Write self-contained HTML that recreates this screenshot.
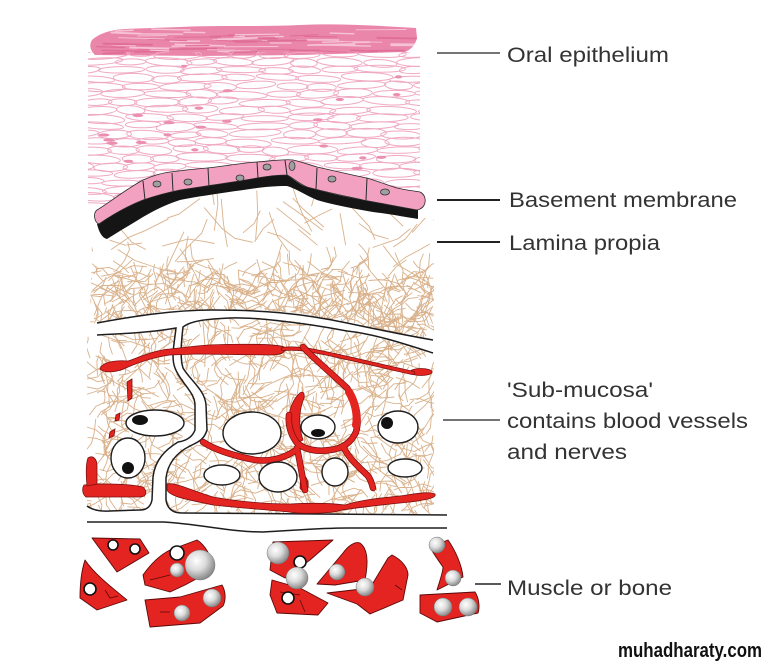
<!DOCTYPE html>
<html><head><meta charset="utf-8">
<style>
html,body{margin:0;padding:0;background:#fff;}
svg{display:block;}
</style></head>
<body>
<svg id="s" width="768" height="664" viewBox="0 0 768 664" xmlns="http://www.w3.org/2000/svg">
<defs>
<radialGradient id="gs" cx="0.38" cy="0.36" r="0.7">
<stop offset="0" stop-color="#ffffff"/>
<stop offset="0.45" stop-color="#dcdcdc"/>
<stop offset="1" stop-color="#7c7c7c"/>
</radialGradient>
<clipPath id="cEpi"><path d="M88,52 L420,52 L420,193 L397,188 L367,178 L317,167 L293,160 L257,162 L207,168 L170,172 L143,180 L97,210 L88,205 Z"/></clipPath>
<clipPath id="cKer"><path d="M92,40 C100,33 110,30 125,29 L180,27 C220,25 260,27 300,25 C340,23 380,26 416,28 L417,38 C415,46 410,50 405,52 L300,55 L200,56 L95,55 C90,50 89,45 92,40 Z"/></clipPath>
<clipPath id="cLam"><path d="M92,236 L107,238 L143,217 L180,200 L257,187 L290,183 L313,195 L367,210 L418,218 L434,218 L434,340 L410,336 L380,330 L347,323 L300,313 L260,310 L213,310 L170,310 L130,317 L97,323 L90,324 Z"/></clipPath>
<clipPath id="cSub">
<path d="M87,337 L97,335 L147,332 L176,328 L173,363 L185,383 L195,397 L195,430 L178,440 L158,457 L153,477 L152,500 Q150,510 140,510 L110,511 Q95,512 87,506 Z"/>
<path d="M183,327 L180,363 L195,380 L205,397 L207,430 L198,440 L175,452 L167,470 L165,497 L166,501 Q168,513 182,513 L434,514 L434,353 L400,343 L347,331 L300,322 L250,317 L230,318 L192,321 Z"/>
</clipPath>
</defs>

<!-- keratin band -->
<path d="M92,40 C100,33 110,30 125,29 L180,27 C220,25 260,27 300,25 C340,23 380,26 416,28 L417,38 C415,46 410,50 405,52 L300,55 L200,56 L95,55 C90,50 89,45 92,40 Z" fill="#ea86a9"/>
<g clip-path="url(#cKer)"><g id="kstreak" fill="none" stroke-linecap="round"></g></g>

<!-- epithelium cells -->
<g clip-path="url(#cEpi)"><g id="epi" fill="none" stroke="#f0a9c3" stroke-width="1"></g></g>

<!-- lamina propria fibers -->
<g clip-path="url(#cLam)"><g id="lam" fill="none" stroke="#d9b18b" stroke-width="0.9"></g></g>

<!-- submucosa fibers -->
<g clip-path="url(#cSub)"><g id="sub" fill="none" stroke="#d9b18b" stroke-width="0.9"></g></g>

<!-- band lines -->
<g fill="none" stroke="#1e1e1e" stroke-width="1.5">
<path d="M97,323 C130,317 170,310 213,310 C260,310 300,313 347,323 C380,330 410,336 433,340"/>
<path d="M97,335 C120,334 155,332 176,328 C174,345 171,358 175,368 C180,382 195,392 195,405 L195,430 C192,438 185,441 178,442 C165,450 155,460 153,477 L152,500 Q150,510 140,510 L110,511 Q95,512 87,506"/>
<path d="M433,353 C405,344 375,334 347,331 C300,322 250,317 230,318 C210,319 192,320 183,327 C181,345 180,358 183,368 C190,380 205,390 206,405 L207,430 C204,440 198,442 190,446 C178,452 168,462 166,478 L166,500 Q168,513 182,513 L447,515"/>
<path d="M87,522 L163,522 C200,524 230,532 263,532 C300,530 320,528 347,528 L447,528"/>
</g>

<!-- blood vessels -->
<g fill="#e42420" stroke="#7a1010" stroke-width="0.8">
<path d="M100,369 C102,362 115,360 128,361 C140,357 155,350 170,349 L197,346 C215,344 275,343 284,347 C287,352 282,355 270,355 L197,354 L170,355 C155,357 140,362 128,367 C118,372 105,374 100,369 Z"/>
<ellipse cx="421" cy="372" rx="11" ry="3.5"/>
<path d="M167,484 C175,482 190,490 213,497 C240,502 270,504 290,504 C310,503 330,503 345,505 C360,500 380,498 400,496 C415,494 428,491 435,494 C437,498 425,500 410,502 C390,504 370,506 342,510 C330,514 300,514 289,512 C270,510 240,508 213,505 C190,500 170,497 167,490 Z"/>
<path d="M84,485 C100,483 130,484 143,487 C148,492 146,497 140,497 L86,497 C82,494 82,488 84,485 Z"/>
<path d="M88,458 C92,455 97,458 97,466 L97,484 L87,486 C86,475 86,463 88,458 Z"/>
<path d="M127,382 L132,379 L132,398 L128,401 Z"/>
<path d="M116,415 L120,413 L119,420 L115,421 Z"/>
<path d="M110,432 L115,429 L114,436 L109,438 Z"/>
<path d="M298,395 C302,390 305,392 304,398 C299,410 298,425 303,440 L296,444 C290,432 288,420 290,410 C292,403 295,398 298,395 Z"/>
<path d="M301,475 C305,474 309,480 308,488 C306,492 302,492 300,488 Z"/>
</g>
<g fill="none" stroke-linecap="round" stroke-linejoin="round">
<g stroke="#7a1010" stroke-width="4.2">
<path d="M283,349 C300,347 320,352 347,358 C370,363 390,368 413,373"/>
</g>
<g stroke="#e42420" stroke-width="2.6">
<path d="M283,349 C300,347 320,352 347,358 C370,363 390,368 413,373"/>
</g>
<g stroke="#7a1010" stroke-width="6.5">
<path d="M303,347 C312,357 330,372 347,388 C356,400 360,418 356,432 C350,445 340,449 330,450 C318,452 305,450 297,443 C291,435 288,425 289,415"/>
<path d="M343,446 C348,458 360,468 368,476 C371,480 372,484 373,488"/>
<path d="M297,448 C300,462 302,475 305,490"/>
<path d="M296,450 C285,458 270,462 255,460 C240,457 218,452 203,442"/>
</g>
<g stroke="#e42420" stroke-width="5">
<path d="M303,347 C312,357 330,372 347,388 C356,400 360,418 356,432 C350,445 340,449 330,450 C318,452 305,450 297,443 C291,435 288,425 289,415"/>
<path d="M343,446 C348,458 360,468 368,476 C371,480 372,484 373,488"/>
<path d="M297,448 C300,462 302,475 305,490"/>
<path d="M296,450 C285,458 270,462 255,460 C240,457 218,452 203,442"/>
</g>
<g stroke="#e42420" stroke-width="8">
<path d="M349,392 C355,402 358,415 356,425"/>
</g>
</g>

<!-- ellipses -->
<g fill="#fff" stroke="#1e1e1e" stroke-width="1.4">
<ellipse cx="155" cy="423" rx="29" ry="13"/>
<ellipse cx="128" cy="458" rx="17" ry="20"/>
<ellipse cx="252" cy="433" rx="29" ry="21"/>
<ellipse cx="318" cy="427" rx="17" ry="12"/>
<ellipse cx="398" cy="427" rx="20" ry="16"/>
<ellipse cx="222" cy="475" rx="18" ry="10"/>
<ellipse cx="278" cy="477" rx="19" ry="15"/>
<ellipse cx="335" cy="472" rx="13" ry="14"/>
<ellipse cx="405" cy="468" rx="17" ry="9"/>
</g>
<g fill="#111">
<ellipse cx="140" cy="420" rx="8" ry="5"/>
<circle cx="128" cy="468" r="6"/>
<ellipse cx="318" cy="433" rx="7" ry="4"/>
<circle cx="387" cy="423" r="6"/>
</g>

<!-- basal layer -->
<path d="M97,224 C110,216 128,206 143,200 C160,194 170,192 180,190 C210,186 240,180 257,178 C270,176 280,174 287,175 C295,180 300,185 307,187 C325,192 345,197 363,200 C385,204 405,208 418,210 L418,219 C405,217 390,214 373,212 C350,208 330,204 317,200 C305,195 295,188 287,186 C275,186 265,187 257,188 C230,192 200,196 180,200 C165,205 155,210 143,217 C130,225 118,232 107,239 C102,238 99,232 97,224 Z" fill="#151515"/>
<path d="M97,210 C110,202 128,188 143,180 C152,176 162,173 170,172 C185,170 195,169 207,168 C225,166 242,163 257,162 C270,161 283,159 293,160 C302,162 310,165 317,167 C335,171 352,175 367,178 C380,182 390,186 397,188 C405,190 415,191 420,192 C427,195 427,206 420,209 L417,210 C400,207 380,203 363,200 C345,196 325,192 307,187 C298,183 292,177 287,175 C278,175 268,176 257,178 C235,182 205,186 180,190 C165,193 155,196 143,200 C128,206 112,215 99,224 C94,222 93,213 97,210 Z" fill="#f2a2c0" stroke="#2a2a2a" stroke-width="0.8"/>
<g stroke="#2a2a2a" stroke-width="1">
<line x1="143" y1="181" x2="145" y2="200"/>
<line x1="172" y1="173" x2="173" y2="191"/>
<line x1="208" y1="168" x2="209" y2="187"/>
<line x1="257" y1="162" x2="258" y2="178"/>
<line x1="285" y1="160" x2="287" y2="175"/>
<line x1="317" y1="168" x2="316" y2="189"/>
<line x1="367" y1="178" x2="366" y2="200"/>
</g>
<g fill="#a0a0a0" stroke="#333" stroke-width="0.8">
<ellipse cx="157" cy="184" rx="4" ry="3"/>
<ellipse cx="188" cy="182" rx="4" ry="3"/>
<ellipse cx="240" cy="178" rx="4" ry="3"/>
<ellipse cx="267" cy="167" rx="4" ry="3"/>
<ellipse cx="292" cy="166" rx="3" ry="4.5"/>
<ellipse cx="332" cy="179" rx="4" ry="3"/>
<ellipse cx="385" cy="192" rx="4.5" ry="3"/>
</g>

<!-- muscle / bone -->
<g fill="#e42420" stroke="#5a0a0a" stroke-width="0.9" stroke-linejoin="round">
<path d="M92,538 L140,539 L149,553 L117,572 L103,553 Z"/>
<path d="M85,560 C95,575 115,590 127,600 L97,610 L80,598 C80,585 81,572 85,560 Z"/>
<path d="M143,575 C150,565 158,556 170,550 L197,540 C205,545 212,556 213,570 L185,585 L170,592 L145,585 Z"/>
<path d="M145,600 L180,597 L222,585 C226,592 226,600 223,606 L200,623 L150,627 Z"/>
<path d="M273,542 L333,540 L310,560 L285,578 L270,570 Z"/>
<path d="M272,580 L300,588 L328,603 L318,615 L277,613 L270,595 Z"/>
<path d="M317,584 L343,553 C348,546 355,541 360,543 C367,548 369,560 365,580 L335,585 Z"/>
<path d="M327,593 L370,588 L388,558 L392,555 C402,560 408,568 408,575 L403,600 L370,614 L357,604 Z"/>
<path d="M430,547 L448,540 C455,550 462,565 463,577 L437,590 C440,580 443,572 443,567 C438,560 433,553 430,547 Z"/>
<path d="M420,595 L475,592 C479,598 480,607 478,613 L437,622 L420,613 Z"/>
</g>
<g fill="none" stroke="#5a0a0a" stroke-width="0.8">
<path d="M105,590 L110,598 L118,596"/>
<path d="M150,580 L170,575"/>
<path d="M160,612 L170,612"/>
<path d="M280,592 L300,595"/>
<path d="M300,600 L305,612"/>
<path d="M395,585 L402,590"/>
</g>
<g fill="#fff" stroke="#111" stroke-width="1.6">
<circle cx="113" cy="545" r="5"/>
<circle cx="135" cy="549" r="5"/>
<circle cx="90" cy="589" r="6"/>
<circle cx="177" cy="553" r="7"/>
<circle cx="300" cy="562" r="6"/>
<circle cx="288" cy="598" r="6"/>
</g>
<g fill="url(#gs)" stroke="#777" stroke-width="0.5">
<circle cx="200" cy="565" r="15"/>
<circle cx="177" cy="570" r="7"/>
<circle cx="212" cy="598" r="9"/>
<circle cx="182" cy="613" r="8"/>
<circle cx="278" cy="553" r="11"/>
<circle cx="297" cy="578" r="11"/>
<circle cx="337" cy="572" r="8"/>
<circle cx="365" cy="587" r="9"/>
<circle cx="437" cy="545" r="8"/>
<circle cx="453" cy="578" r="8"/>
<circle cx="443" cy="607" r="9"/>
<circle cx="468" cy="607" r="9"/>
</g>

<!-- leader lines -->
<g stroke="#222">
<line x1="437" y1="53" x2="500" y2="53" stroke-width="1.2"/>
<line x1="437" y1="200" x2="500" y2="200" stroke-width="2"/>
<line x1="437" y1="242" x2="500" y2="242" stroke-width="2"/>
<line x1="443" y1="420" x2="500" y2="420" stroke-width="1.2"/>
<line x1="475" y1="584" x2="501" y2="584" stroke-width="1.6"/>
</g>

<!-- labels -->
<g font-family="Liberation Sans, Arial, sans-serif" font-size="21" fill="#333">
<text x="507" y="62" textLength="162" lengthAdjust="spacingAndGlyphs">Oral epithelium</text>
<text x="509" y="207" textLength="228" lengthAdjust="spacingAndGlyphs">Basement membrane</text>
<text x="509" y="250" textLength="151" lengthAdjust="spacingAndGlyphs">Lamina propia</text>
<text x="507" y="397" textLength="146" lengthAdjust="spacingAndGlyphs">'Sub-mucosa'</text>
<text x="507" y="428" textLength="241" lengthAdjust="spacingAndGlyphs">contains blood vessels</text>
<text x="507" y="459" textLength="120" lengthAdjust="spacingAndGlyphs">and nerves</text>
<text x="507" y="595" textLength="165" lengthAdjust="spacingAndGlyphs">Muscle or bone</text>
</g>
<text x="618" y="657" font-family="Liberation Sans, Arial, sans-serif" font-size="20" font-weight="bold" fill="#111" textLength="144" lengthAdjust="spacingAndGlyphs">muhadharaty.com</text>
</svg>
<script>
(function(){
var a=20240607;
function R(){a|=0;a=a+0x6D2B79F5|0;var t=Math.imul(a^a>>>15,1|a);t=t+Math.imul(t^t>>>7,61|t)^t;return((t^t>>>14)>>>0)/4294967296;}
function f(v){return v.toFixed(1);}
function fibers(n,x0,x1,y0,y1,lmin,lmax,bend,kmax){
  var out='';
  for(var i=0;i<n;i++){
    var x=x0+R()*(x1-x0),y=y0+R()*(y1-y0);
    var d='M'+f(x)+','+f(y);
    var k=2+Math.floor(R()*kmax);
    var ang=R()*6.2832;
    for(var j=0;j<k;j++){
      ang+=(R()-0.5)*bend;
      var l=lmin+R()*(lmax-lmin);
      x+=Math.cos(ang)*l;y+=Math.sin(ang)*l;
      d+=' L'+f(x)+','+f(y);
    }
    out+='<path d="'+d+'"/>';
  }
  return out;
}
document.getElementById('lam').innerHTML=
  fibers(45,90,434,198,262,12,28,0.9,2)+fibers(560,88,434,268,338,6,14,1.6,2);
document.getElementById('sub').innerHTML=fibers(780,84,436,318,516,6,15,1.6,3);

// epithelium cells
var e='';
for(var y=54;y<214;y+=8){
  var x=86-R()*25;
  while(x<428){
    var w=26+R()*26,h=6+R()*3;
    var cy=y+(R()-0.5)*3;
    e+='<ellipse cx="'+f(x+w/2)+'" cy="'+f(cy)+'" rx="'+f(w/2)+'" ry="'+f(h/2)+'" transform="rotate('+f((R()-0.5)*8)+' '+f(x+w/2)+' '+f(cy)+')"/>';
    x+=w*(0.85+R()*0.2);
  }
}
for(var i=0;i<22;i++){
  var cx=95+R()*320,cy2=65+R()*115;
  e+='<ellipse cx="'+f(cx)+'" cy="'+f(cy2)+'" rx="'+f(3+R()*3)+'" ry="1.6" fill="#ea8fb0" stroke="none"/>';
}
document.getElementById('epi').innerHTML=e;

// keratin streaks
var k='';
for(var i=0;i<60;i++){
  var x1=92+R()*300,y1=29+R()*25,l=15+R()*40;
  var col=R()<0.55?'#f6c3d5':'#df6e96';
  k+='<path d="M'+f(x1)+','+f(y1)+' L'+f(x1+l)+','+f(y1+(R()-0.5)*3)+'" stroke="'+col+'" stroke-width="'+f(0.8+R()*1.2)+'"/>';
}
document.getElementById('kstreak').innerHTML=k;
})();
</script>
</body></html>
